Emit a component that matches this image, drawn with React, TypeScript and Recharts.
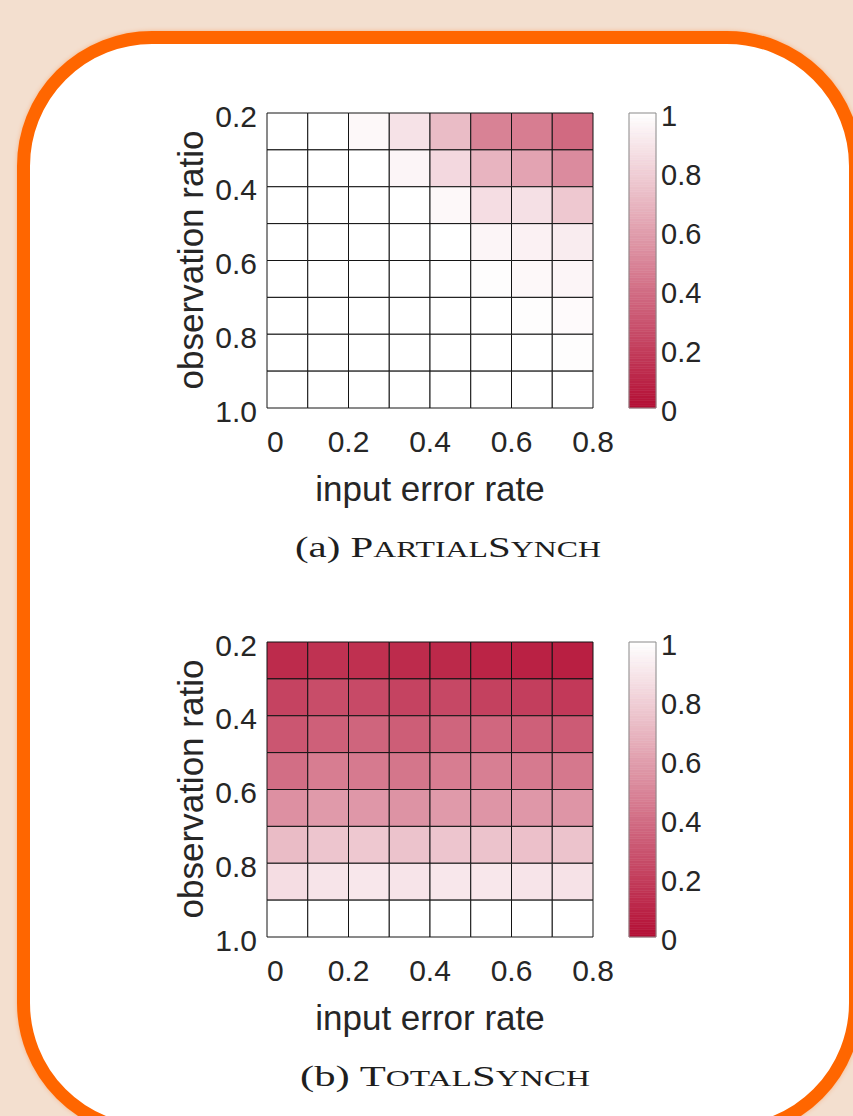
import React from 'react';
import { ComposedChart, XAxis, YAxis, ReferenceArea } from 'recharts';

// Bin edges of the two swept parameters
const errorRateBins = [0, 0.1, 0.2, 0.3, 0.4, 0.5, 0.6, 0.7, 0.8];
const observationBins = [0.2, 0.3, 0.4, 0.5, 0.6, 0.7, 0.8, 0.9, 1.0];

// Axis ticks
const xTicks = [0, 0.2, 0.4, 0.6, 0.8];
const yTicks = [0.2, 0.4, 0.6, 0.8, 1.0];
const colorbarTicks = [0, 0.2, 0.4, 0.6, 0.8, 1];

// Success rate per cell, rows = observation ratio bins (top to bottom), columns = input error rate bins
const partialSynch = [
  [1.0, 1.0, 0.97, 0.88, 0.72, 0.48, 0.46, 0.38],
  [1.0, 1.0, 1.0, 0.96, 0.84, 0.69, 0.62, 0.52],
  [1.0, 1.0, 1.0, 1.0, 0.97, 0.86, 0.87, 0.77],
  [1.0, 1.0, 1.0, 1.0, 1.0, 0.96, 0.94, 0.92],
  [1.0, 1.0, 1.0, 1.0, 1.0, 0.99, 0.97, 0.96],
  [1.0, 1.0, 1.0, 1.0, 1.0, 1.0, 0.99, 0.98],
  [1.0, 1.0, 1.0, 1.0, 1.0, 1.0, 1.0, 0.99],
  [1.0, 1.0, 1.0, 1.0, 1.0, 1.0, 1.0, 1.0],
];

const totalSynch = [
  [0.12, 0.15, 0.14, 0.12, 0.11, 0.09, 0.08, 0.07],
  [0.22, 0.26, 0.25, 0.22, 0.24, 0.21, 0.2, 0.18],
  [0.3, 0.34, 0.36, 0.33, 0.36, 0.37, 0.34, 0.32],
  [0.4, 0.46, 0.45, 0.43, 0.46, 0.47, 0.45, 0.44],
  [0.54, 0.58, 0.57, 0.55, 0.58, 0.56, 0.57, 0.56],
  [0.72, 0.76, 0.77, 0.75, 0.76, 0.75, 0.74, 0.75],
  [0.86, 0.89, 0.9, 0.89, 0.9, 0.9, 0.89, 0.88],
  [1.0, 1.0, 1.0, 1.0, 1.0, 1.0, 1.0, 1.0],
];

// White-to-crimson colour map
const LOW = [180, 14, 52];
function shade(v: number): string {
  const t = Math.max(0, Math.min(1, v));
  const c = LOW.map((l) => Math.round(l + (255 - l) * t));
  return `rgb(${c[0]},${c[1]},${c[2]})`;
}

const TICK_FONT = '"Liberation Sans", Arial, Helvetica, sans-serif';
const TICK_COLOR = '#262626';
const TICK_SIZE = 30;

const renderXTick = (props: any) => {
  const { x, y, payload } = props;
  const v = payload.value as number;
  return (
    <text
      x={x}
      y={y}
      dy="0.71em"
      textAnchor={v === 0 ? 'start' : 'middle'}
      fill={TICK_COLOR}
      fontSize={TICK_SIZE}
      fontFamily={TICK_FONT}
    >
      {v === 0 ? '0' : v.toFixed(1)}
    </text>
  );
};

const renderYTick = (props: any) => {
  const { x, y, payload } = props;
  const v = payload.value as number;
  return (
    <text
      x={x}
      y={y + 3}
      dy="0.355em"
      textAnchor="end"
      fill={TICK_COLOR}
      fontSize={TICK_SIZE}
      fontFamily={TICK_FONT}
    >
      {v.toFixed(1)}
    </text>
  );
};

const renderBarTick = (props: any) => {
  const { x, y, payload } = props;
  const v = payload.value as number;
  return (
    <text
      x={x}
      y={y + 3}
      dy="0.355em"
      textAnchor="start"
      fill={TICK_COLOR}
      fontSize={29}
      fontFamily={TICK_FONT}
    >
      {String(v)}
    </text>
  );
};

type Cell = { x1: number; x2: number; y1: number; y2: number; v: number };

function Heatmap({ values }: { values: number[][] }) {
  const cells: Cell[] = [];
  values.forEach((row, i) =>
    row.forEach((v, j) =>
      cells.push({
        x1: errorRateBins[j],
        x2: errorRateBins[j + 1],
        y1: observationBins[i],
        y2: observationBins[i + 1],
        v,
      })
    )
  );
  return (
    <ComposedChart
      width={500}
      height={370}
      margin={{ top: 13, right: 47, bottom: 12, left: 57 }}
      data={cells}
    >
      <XAxis
        type="number"
        dataKey="x1"
        domain={[0, 0.8]}
        allowDataOverflow
        ticks={xTicks}
        interval={0}
        tick={renderXTick}
        axisLine={false}
        tickLine={false}
        tickSize={0}
        tickMargin={23}
        height={50}
      />
      <YAxis
        type="number"
        dataKey="y1"
        domain={[0.2, 1.0]}
        allowDataOverflow
        reversed
        ticks={yTicks}
        interval={0}
        tick={renderYTick}
        axisLine={false}
        tickLine={false}
        tickSize={0}
        tickMargin={10}
        width={70}
      />
      {cells.map((c, k) => (
        <ReferenceArea
          key={k}
          x1={c.x1}
          x2={c.x2}
          y1={c.y1}
          y2={c.y2}
          fill={shade(c.v)}
          fillOpacity={1}
          stroke="#141414"
          strokeWidth={1}
        />
      ))}
    </ComposedChart>
  );
}

function Colorbar() {
  const slices: { lo: number; hi: number }[] = [];
  const n = 120;
  for (let i = 0; i < n; i++) slices.push({ lo: i / n, hi: (i + 1) / n });
  return (
    <ComposedChart
      width={130}
      height={370}
      margin={{ top: 13, right: 4, bottom: 62, left: 29 }}
      data={[{ x: 0, y: 0 }, { x: 1, y: 1 }]}
    >
      <XAxis type="number" dataKey="x" domain={[0, 1]} hide height={0} />
      <YAxis
        type="number"
        dataKey="y"
        orientation="right"
        domain={[0, 1]}
        allowDataOverflow
        ticks={colorbarTicks}
        interval={0}
        tick={renderBarTick}
        axisLine={false}
        tickLine={false}
        tickSize={0}
        tickMargin={5}
        width={70}
      />
      {slices.map((s, k) => (
        <ReferenceArea
          key={k}
          x1={0}
          x2={1}
          y1={s.lo}
          y2={s.hi}
          fill={shade((s.lo + s.hi) / 2)}
          fillOpacity={1}
          stroke={shade((s.lo + s.hi) / 2)}
          strokeWidth={0.6}
        />
      ))}
      <ReferenceArea x1={0} x2={1} y1={0} y2={1} fill="none" fillOpacity={0} stroke="#8a8a8a" strokeWidth={1} />
    </ComposedChart>
  );
}

const axisTitle: React.CSSProperties = {
  position: 'absolute',
  fontFamily: TICK_FONT,
  fontSize: 35,
  color: TICK_COLOR,
  whiteSpace: 'nowrap',
  lineHeight: 1,
};

// Caption with hand-set small capitals: first letters full size, the rest reduced
function Caption({ cx, cy, tag, words, width }: { cx: number; cy: number; tag: string; words: string[]; width: number }) {
  const size = 30;
  return (
    <svg
      width={420}
      height={50}
      style={{ position: 'absolute', left: cx - 210, top: cy - 25, overflow: 'visible' }}
    >
      <text
        x={210}
        y={35}
        textAnchor="middle"
        fontFamily='"Liberation Serif", "DejaVu Serif", serif'
        fontSize={size}
        fill="#1e1e1e"
        textLength={width}
        lengthAdjust="spacingAndGlyphs"
      >
        <tspan>{tag} </tspan>
        {words.map((w, i) => (
          <React.Fragment key={i}>
            <tspan>{w.charAt(0)}</tspan>
            <tspan fontSize={size * 0.78}>{w.slice(1).toUpperCase()}</tspan>
          </React.Fragment>
        ))}
      </text>
    </svg>
  );
}

function Panel({
  top,
  values,
  tag,
  words,
  captionWidth,
  captionX,
}: {
  top: number;
  values: number[][];
  tag: string;
  words: string[];
  captionWidth: number;
  captionX: number;
}) {
  return (
    <>
      <div style={{ position: 'absolute', left: 140, top }}>
        <Heatmap values={values} />
      </div>
      <div style={{ position: 'absolute', left: 600, top }}>
        <Colorbar />
      </div>
      <div
        style={{
          ...axisTitle,
          left: 190,
          top: top + 160,
          transform: 'translate(-50%, -50%) rotate(-90deg)',
        }}
      >
        observation ratio
      </div>
      <div style={{ ...axisTitle, left: 430, top: top + 388, transform: 'translate(-50%, -50%)' }}>
        input error rate
      </div>
      <Caption cx={captionX} cy={top + 447} tag={tag} words={words} width={captionWidth} />
    </>
  );
}

export default function App() {
  return (
    <div
      style={{
        position: 'absolute',
        left: 0,
        top: 0,
        width: 853,
        height: 1116,
        overflow: 'hidden',
        background: '#f3dfcf',
      }}
    >
      <div
        style={{
          position: 'absolute',
          left: 17,
          top: 31,
          width: 845,
          height: 1107,
          boxSizing: 'border-box',
          border: '13px solid #ff6600',
          borderRadius: 135,
          background: '#ffffff',
          boxShadow: '0 0 4px rgba(255, 102, 0, 0.35)',
        }}
      />
      <Panel
        top={100}
        values={partialSynch}
        tag="(a)"
        words={['Partial', 'Synch']}
        captionWidth={306}
        captionX={448}
      />
      <Panel
        top={629}
        values={totalSynch}
        tag="(b)"
        words={['Total', 'Synch']}
        captionWidth={290}
        captionX={445}
      />
    </div>
  );
}
